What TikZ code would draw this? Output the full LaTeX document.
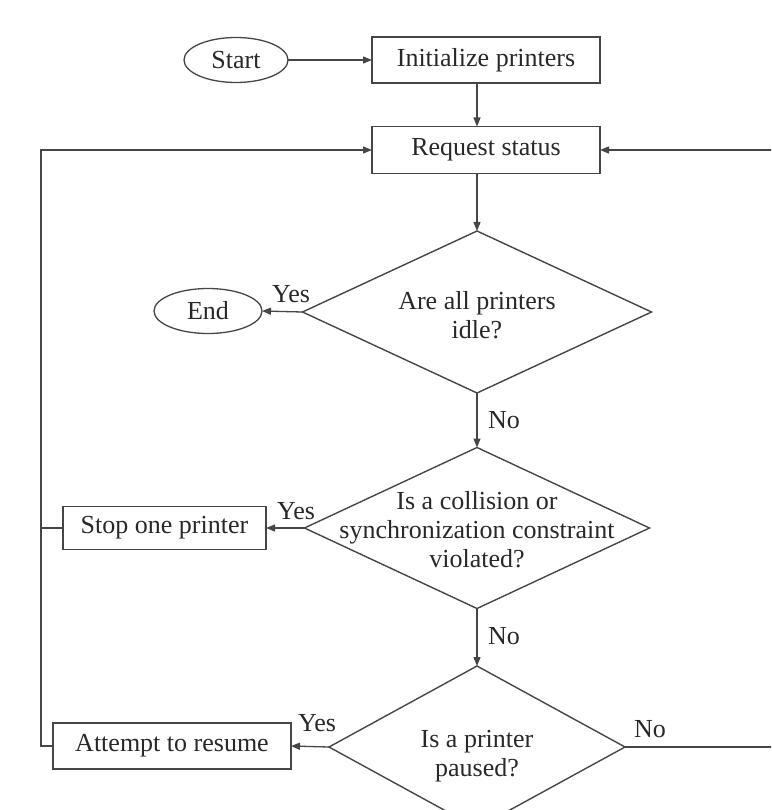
\documentclass[tikz,border=0pt]{standalone}
\usepackage{fontspec}
\setmainfont{Liberation Serif}
\usetikzlibrary{shapes.geometric,arrows.meta,calc}
\definecolor{linec}{RGB}{70,70,70}
\definecolor{textc}{RGB}{40,40,40}
\begin{document}
\begin{tikzpicture}[x=1pt,y=-1pt,
  every node/.style={font=\fontsize{26}{29}\selectfont, text=textc, inner sep=0pt, outer sep=0pt},
  line/.style={draw=linec, line width=1.3pt},
  arr/.style={line, -{Triangle[length=9pt,width=7pt]}},
  procbox/.style={rectangle, draw=linec, line width=1.3pt},
  term/.style={ellipse, draw=linec, line width=1.3pt},
  decision/.style={diamond, draw=linec, line width=1.4pt},
  dtext/.style={align=center},
  lbl/.style={}]
\useasboundingbox (0,0) rectangle (771,810);
\clip (0,0) rectangle (771,810);

% nodes
\node[term, minimum width=104pt, minimum height=45pt] (start) at (236,60) {Start};
\node[procbox, minimum width=228pt, minimum height=46pt] (init) at (486,60) {Initialize printers};
\node[procbox, minimum width=228pt, minimum height=47pt] (req) at (486,150) {Request status};
\node[decision, minimum width=349pt, minimum height=162pt] (d1) at (477,312) {};
\node[dtext] (d1t) at (477,315) {Are all printers\\idle?};
\node[term, minimum width=108pt, minimum height=45pt] (end) at (208,311) {End};
\node[decision, minimum width=345pt, minimum height=161pt] (d2) at (477,528) {};
\node[dtext] (d2t) at (477,530) {Is a collision or\\synchronization constraint\\violated?};
\node[procbox, minimum width=203pt, minimum height=43pt] (stop) at (164.5,528) {Stop one printer};
\node[decision, minimum width=296pt, minimum height=162pt] (d3) at (477,747) {};
\node[dtext] (d3t) at (477,756) {Is a printer\\paused?};
\node[procbox, minimum width=238pt, minimum height=46pt] (resume) at (172,746) {Attempt to resume};

% labels
\node[lbl] (y1) at (291,294) {Yes};
\node[lbl] (n1) at (504,420) {No};
\node[lbl] (y2) at (296,511) {Yes};
\node[lbl] (n2) at (504,636) {No};
\node[lbl] (y3) at (317,723) {Yes};
\node[lbl] (n3) at (650,729) {No};

% helper coordinates
\coordinate (lx) at (41,0);
\coordinate (rx) at (776,0);

% connectors
\draw[arr] (start.east) -- (init.west);
\draw[arr] (init.south -| d1.north) -- (d1.north |- req.north);
\draw[arr] (req.south -| d1.north) -- (d1.north);
\draw[arr] (d1.west) -- (end.east);
\draw[arr] (d1.south) -- (d2.north);
\draw[arr] (d2.west) -- (stop.east);
\draw[arr] (d2.south) -- (d3.north);
\draw[arr] (d3.west) -- (resume.east);
\draw[line] (stop.west) -- (stop.west -| lx);
\draw[arr] (resume.west) -- (resume.west -| lx) -- (req.west -| lx) -- (req.west);
\draw[arr] (d3.east) -- (d3.east -| rx) -- (req.east -| rx) -- (req.east);
\end{tikzpicture}
\end{document}
